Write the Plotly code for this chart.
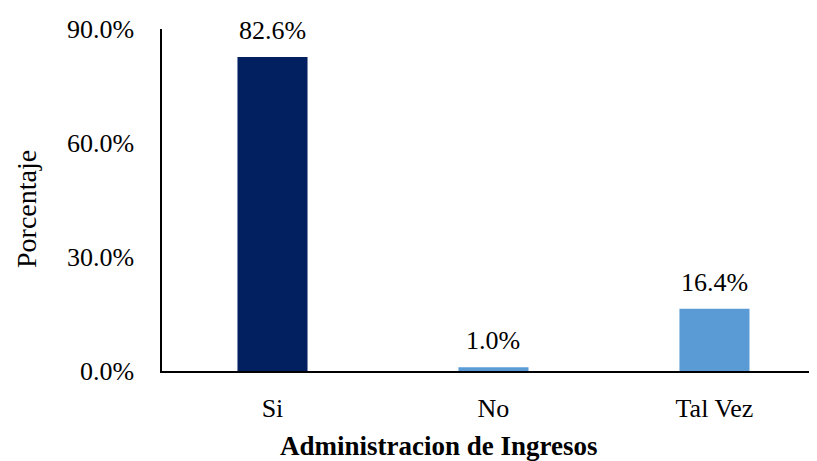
import plotly.graph_objects as go

categories = ["Si", "No", "Tal Vez"]
percentages = [0.826, 0.010, 0.164]
bar_colors = ["#022060", "#5B9BD5", "#5B9BD5"]
y_ticks = [0.0, 0.3, 0.6, 0.9]

FONT = "Liberation Serif, Times New Roman, serif"

fig = go.Figure(
    go.Bar(
        x=categories,
        y=percentages,
        marker={"color": bar_colors, "line": {"width": 0}},
        width=0.317,
        hovertemplate="%{x}: %{y:.1%}<extra></extra>",
    )
)

# data labels sit a little above each bar, like the Excel original
for cat, val in zip(categories, percentages):
    fig.add_annotation(
        x=cat, y=val, text=f"{val:.1%}", showarrow=False,
        yanchor="bottom", yshift=10,
        font={"family": FONT, "size": 26, "color": "#000000"},
    )

fig.add_annotation(
    text="<b>Administracion de Ingresos</b>", xref="paper", yref="paper",
    x=0.423, y=-0.218, xanchor="center", yanchor="middle", showarrow=False,
    font={"family": FONT, "size": 27, "color": "#000000"},
)
fig.add_annotation(
    text="Porcentaje", xref="paper", yref="paper", textangle=-90,
    x=-0.206, y=0.474, xanchor="center", yanchor="middle", showarrow=False,
    font={"family": FONT, "size": 28, "color": "#000000"},
)

fig.update_layout(
    width=809,
    height=453,
    margin={"l": 154, "r": 0, "t": 21, "b": 90, "autoexpand": False},
    paper_bgcolor="#ffffff",
    plot_bgcolor="#ffffff",
    font={"family": FONT, "color": "#000000"},
    showlegend=False,
    xaxis={
        "range": [-0.5, 2.464],
        "showline": True,
        "linecolor": "#000000",
        "linewidth": 2,
        "showgrid": False,
        "ticks": "",
        "tickfont": {"family": FONT, "size": 26},
        "ticklabelstandoff": 13,
    },
    yaxis={
        "range": [0, 0.9],
        "tickvals": y_ticks,
        "tickformat": ".1%",
        "showline": True,
        "linecolor": "#000000",
        "linewidth": 1.5,
        "showgrid": False,
        "zeroline": False,
        "ticks": "",
        "tickfont": {"family": FONT, "size": 26},
        "ticklabelstandoff": 21,
    },
)

fig.write_html("out.html")
